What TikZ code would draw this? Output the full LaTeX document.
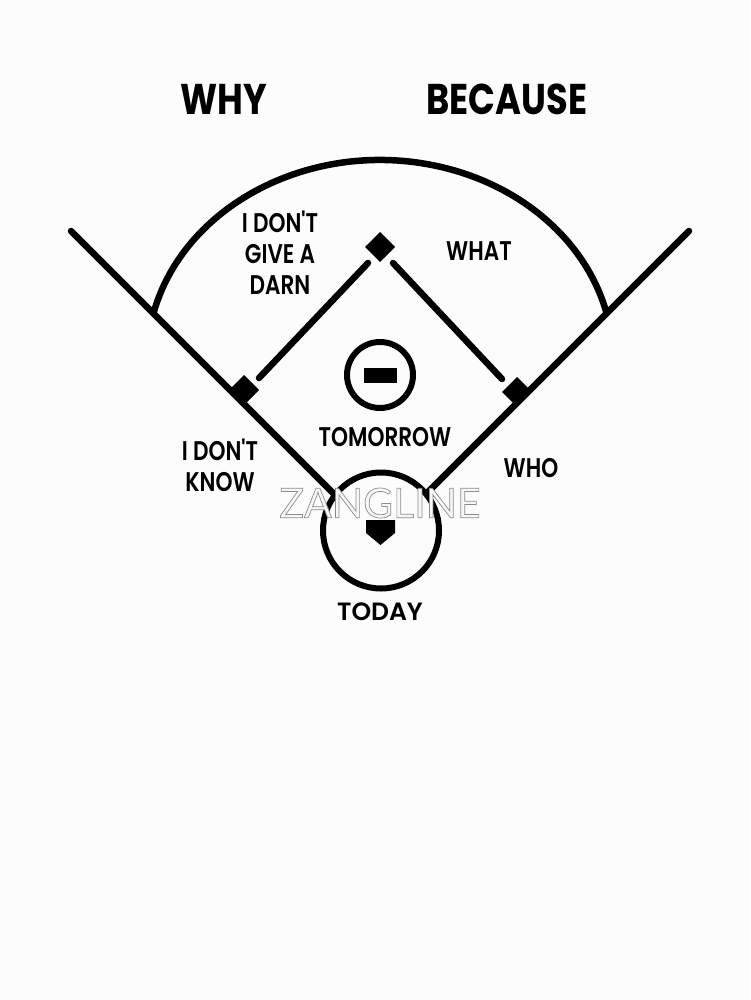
\documentclass[tikz,border=0pt]{standalone}
\usepackage{fontspec}
\setmainfont{Poppins}
\newfontfamily\wmfont{Lato}
\newfontfamily\lblfont{Poppins SemiBold}
\newfontfamily\todayfont{Poppins SemiBold}
\tikzset{
  field/.style={line width=6.5pt,line cap=round,black},
  fieldthin/.style={line width=6.5pt,black},
  base/.style={fill=black,draw=none},
  title/.style={font=\bfseries\fontsize{43}{43}\selectfont,inner sep=0pt,xscale=.82,transform shape},
  lbl/.style={font=\lblfont\fontsize{27}{31}\selectfont,inner sep=0pt,align=center,xscale=.80,transform shape},
  lbltoday/.style={font=\todayfont\fontsize{25}{28}\selectfont,inner sep=0pt,align=center},
}
\begin{document}
\begin{tikzpicture}[x=1pt,y=-1pt]
\useasboundingbox[fill={rgb,255:red,252;green,252;blue,252}] (0,0) rectangle (750,1000);
% named points
\coordinate (lfoul) at (71,231);
\coordinate (rfoul) at (689,231);
\coordinate (lhome) at (334,494);
\coordinate (rhome) at (428,492);
\coordinate (second) at (380,247);
\coordinate (first) at (517,392);
\coordinate (third) at (244,390);
\coordinate (mound) at (380,375);
\coordinate (plate) at (381,530.5);
\coordinate (l2a) at (368,263);
\coordinate (l2b) at (259,378);
\coordinate (r2a) at (393,263);
\coordinate (r2b) at (502,379);
% foul lines
\draw[field] (lfoul) -- (lhome);
\draw[field] (rfoul) -- (rhome);
% outfield
\draw[fieldthin] (153,315) arc[start angle=193,end angle=347,x radius=233,y radius=200];
% infield lines
\draw[field] (l2a) -- (l2b);
\draw[field] (r2a) -- (r2b);
% bases
\fill[base] (second) ++(-15,0) -- ++(15,-15) -- ++(15,15) -- ++(-15,15) -- cycle;
\fill[base] (first) ++(-15,0) -- ++(15,-15) -- ++(15,15) -- ++(-15,15) -- cycle;
\fill[base] (third) ++(-15,0) -- ++(15,-15) -- ++(15,15) -- ++(-15,15) -- cycle;
% mound
\draw[line width=6pt] (mound) circle[radius=33];
\fill (364,368) rectangle (397,383);
% home
\draw[line width=6pt] (plate) circle[radius=58];
\fill (366,520) -- (395,520) -- (395,533) -- (380.5,545) -- (366,533) -- cycle;
% labels
\node[title] (why) at (224,99) {WHY};
\node[title] (because) at (507,99) {BECAUSE};
\node[lbl] (darn) at (280,253) {I DON'T\\GIVE A\\DARN};
\node[lbl] (what) at (479,251) {WHAT};
\node[lbl] (know) at (220,465.5) {I DON'T\\KNOW};
\node[lbl] (tomorrow) at (385,437) {TOMORROW};
\node[lbl] (who) at (531,468) {WHO};
\node[lbltoday] (today) at (380,612) {TODAY};
\node[inner sep=0pt,font=\wmfont\fontsize{41}{41}\selectfont] (mark) at (380,503)
  {\special{pdf:code 2 Tr 0.7 w 0.55 G 0.97 g}ZANGLINE\special{pdf:code 0 Tr}};
\end{tikzpicture}
\end{document}
